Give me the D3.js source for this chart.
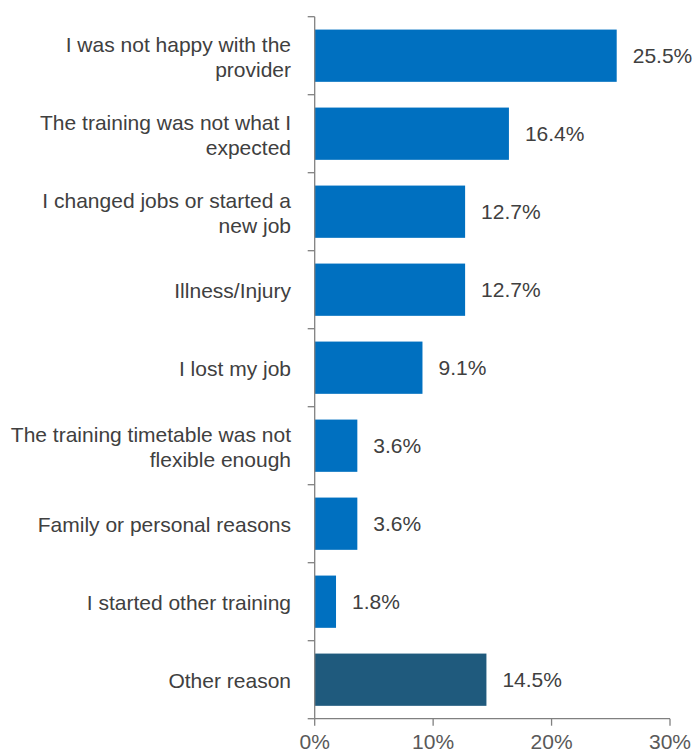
<!DOCTYPE html>
<html><head><meta charset="utf-8">
<script src="https://cdn.jsdelivr.net/npm/d3@7"></script>
<style>body{margin:0;background:#fff;}svg{display:block;}</style>
</head><body>
<svg id="c" width="696" height="753"></svg>
<script>
const categories = [
  ["I was not happy with the", "provider"],
  ["The training was not what I", "expected"],
  ["I changed jobs or started a", "new job"],
  ["Illness/Injury"],
  ["I lost my job"],
  ["The training timetable was not", "flexible enough"],
  ["Family or personal reasons"],
  ["I started other training"],
  ["Other reason"]
];
const values = [25.5, 16.4, 12.7, 12.7, 9.1, 3.6, 3.6, 1.8, 14.5];
const valueLabels = ["25.5%", "16.4%", "12.7%", "12.7%", "9.1%", "3.6%", "3.6%", "1.8%", "14.5%"];
const xTicks = [0, 10, 20, 30];
const xTickLabels = ["0%", "10%", "20%", "30%"];
const colors = ["#0070C0","#0070C0","#0070C0","#0070C0","#0070C0","#0070C0","#0070C0","#0070C0","#1F5A7D"];

(function(){
const svg = d3.select("#c");
const mLeft = 314.7, mRight = 670, mTop = 16.7, mBottom = 718.7;
const font = "'Liberation Sans', Arial, sans-serif";
const textColor = "#404040";
const axisColor = "#808080";
const fs = 21;

const x = d3.scaleLinear().domain([0, 30]).range([mLeft, mRight]);
const y = d3.scaleBand().domain(d3.range(categories.length)).range([mTop, mBottom]).paddingInner(0.33).paddingOuter(0.165);

svg.selectAll("rect.bar").data(values).join("rect")
  .attr("x", x(0)).attr("y", (d,i) => y(i))
  .attr("width", d => x(d) - x(0)).attr("height", y.bandwidth())
  .attr("fill", (d,i) => colors[i]);

svg.selectAll("text.val").data(values).join("text")
  .attr("x", d => x(d) + 16).attr("y", (d,i) => y(i) + y.bandwidth()/2)
  .attr("dy", "0.35em")
  .attr("font-family", font).attr("font-size", fs).attr("fill", textColor)
  .text((d,i) => valueLabels[i]);

svg.append("line").attr("x1", mLeft).attr("x2", mLeft).attr("y1", mTop).attr("y2", mBottom)
  .attr("stroke", axisColor).attr("stroke-width", 1.3);
const yTickPos = d3.range(categories.length + 1).map(i => mTop + i * (mBottom - mTop) / categories.length);
svg.selectAll("line.yt").data(yTickPos).join("line")
  .attr("x1", mLeft - 7).attr("x2", mLeft).attr("y1", d => d).attr("y2", d => d)
  .attr("stroke", axisColor).attr("stroke-width", 1.3);

categories.forEach((lines, i) => {
  const cy = y(i) + y.bandwidth()/2 + 1;
  const lh = 25;
  const t = svg.append("text")
    .attr("text-anchor", "end").attr("font-family", font).attr("font-size", fs).attr("fill", textColor);
  lines.forEach((ln, j) => {
    t.append("tspan").attr("x", 291)
      .attr("y", cy + (j - (lines.length - 1)/2) * lh)
      .attr("dy", "0.35em").text(ln);
  });
});

svg.append("line").attr("x1", mLeft).attr("x2", mRight).attr("y1", mBottom).attr("y2", mBottom)
  .attr("stroke", axisColor).attr("stroke-width", 1.3);
svg.selectAll("line.xt").data(xTicks).join("line")
  .attr("x1", d => x(d)).attr("x2", d => x(d)).attr("y1", mBottom).attr("y2", mBottom + 7)
  .attr("stroke", axisColor).attr("stroke-width", 1.3);
svg.selectAll("text.xl").data(xTicks).join("text")
  .attr("x", d => x(d)).attr("y", 749)
  .attr("text-anchor", "middle").attr("font-family", font).attr("font-size", fs).attr("fill", "#595959")
  .text((d,i) => xTickLabels[i]);
})();
</script>
</body></html>
